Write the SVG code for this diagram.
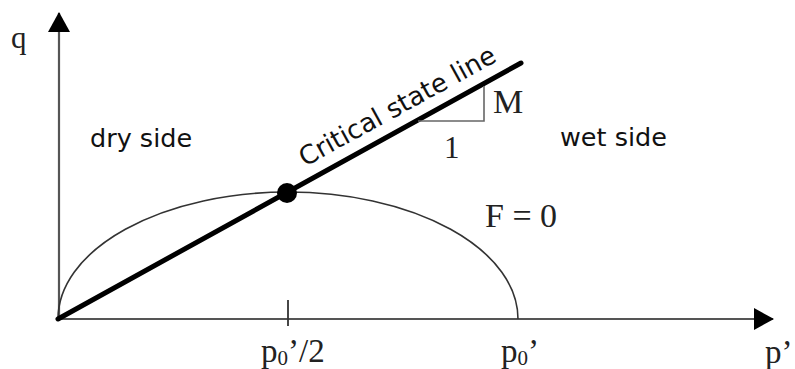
<svg xmlns="http://www.w3.org/2000/svg" width="795" height="369" viewBox="0 0 795 369">
<style>
.serif{font-family:"Liberation Serif","Times New Roman",serif;fill:#222}
.sans{font-family:"DejaVu Sans",Verdana,sans-serif;fill:#111}
.ax{stroke:#555;stroke-width:2.2;fill:none}
</style>
<defs>
<marker id="ahb" markerWidth="20" markerHeight="22" refX="19" refY="11" orient="auto" markerUnits="userSpaceOnUse" viewBox="0 0 20 22">
<path d="M0,0 L20,11 L0,22 Z" fill="#000"/>
</marker>
</defs>
<g id="connectors">
<line id="q-axis" class="ax" x1="59" y1="320" x2="59" y2="13" marker-end="url(#ahb)"/>
<line id="p-axis" class="ax" x1="58" y1="319" x2="773" y2="319" marker-end="url(#ahb)"/>
<path id="yield-surface" d="M58,319 A230,127 0 0 1 518,319" fill="none" stroke="#333" stroke-width="1.6"/>
<line id="csl" x1="58" y1="319" x2="521" y2="63" stroke="#000" stroke-width="5" stroke-linecap="round"/>
<line id="tick" x1="288" y1="300" x2="288" y2="326" stroke="#333" stroke-width="1.8"/>
<polyline id="slope" points="418,121 484,121 484,86" fill="none" stroke="#666" stroke-width="1.6"/>
</g>
<g id="point"><circle cx="287" cy="193" r="10" fill="#000"/></g>
<g id="labels">
<text class="serif" x="11" y="48" font-size="31">q</text>
<text class="sans" x="90" y="147" font-size="25.5">dry side</text>
<text class="sans" x="560" y="146" font-size="25.5">wet side</text>
<text class="sans" font-size="26" transform="translate(305,167) rotate(-28.8)">Critical state line</text>
<text class="serif" x="493" y="113" font-size="34">M</text>
<text class="serif" x="444" y="158" font-size="31">1</text>
<text class="serif" x="485" y="227" font-size="34">F = 0</text>
<text class="serif" x="261" y="362" font-size="33">p<tspan font-size="21" dy="3">0</tspan><tspan dy="-3">’/2</tspan></text>
<text class="serif" x="501" y="362" font-size="33">p<tspan font-size="21" dy="3">0</tspan><tspan dy="-3">’</tspan></text>
<text class="serif" x="765" y="363" font-size="33">p’</text>
</g>
</svg>
